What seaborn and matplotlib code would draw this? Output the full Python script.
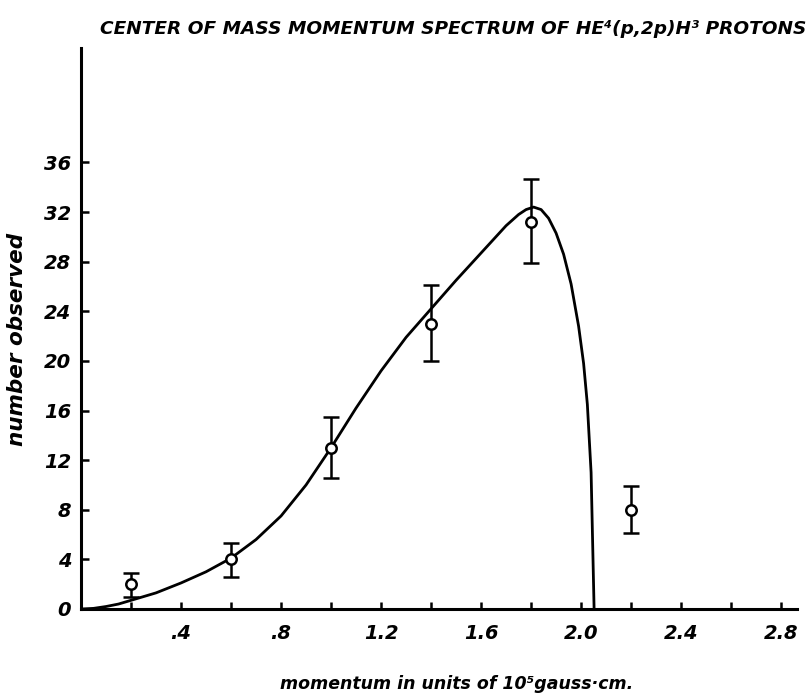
import matplotlib
matplotlib.use("Agg")
import matplotlib.pyplot as plt
import seaborn as sns
import pandas as pd

# ---- data ----
momentum = [0.2, 0.6, 1.0, 1.4, 1.8, 2.2]
observed = [2.0, 4.0, 13.0, 23.0, 31.2, 8.0]
err_lo = [1.0, 1.4, 2.4, 3.0, 3.3, 1.9]
err_hi = [0.9, 1.3, 2.5, 3.1, 3.5, 1.9]

curve_x = [0.0, 0.05, 0.1, 0.15, 0.2, 0.3, 0.4, 0.5, 0.6, 0.7, 0.8, 0.9, 1.0,
           1.1, 1.2, 1.3, 1.4, 1.5, 1.6, 1.65, 1.7, 1.75, 1.78, 1.81, 1.84,
           1.87, 1.9, 1.93, 1.96, 1.99, 2.01, 2.025, 2.04, 2.052]
curve_y = [0.0, 0.05, 0.2, 0.4, 0.7, 1.3, 2.1, 3.0, 4.1, 5.6, 7.5, 10.0, 13.0,
           16.2, 19.2, 21.9, 24.2, 26.5, 28.7, 29.8, 30.9, 31.8, 32.2, 32.4, 32.2,
           31.5, 30.3, 28.6, 26.2, 22.8, 19.8, 16.5, 11.0, 0.0]

xticks_minor = [0.2, 0.4, 0.6, 0.8, 1.0, 1.2, 1.4, 1.6, 1.8, 2.0, 2.2, 2.4, 2.6, 2.8]
xtick_pos = [0.4, 0.8, 1.2, 1.6, 2.0, 2.4, 2.8]
xtick_lab = [".4", ".8", "1.2", "1.6", "2.0", "2.4", "2.8"]
ytick_pos = [0, 4, 8, 12, 16, 20, 24, 28, 32, 36]
ytick_lab = ["0", "4", "8", "12", "16", "20", "24", "28", "32", "36"]

title = "CENTER OF MASS MOMENTUM SPECTRUM OF HE\u2074(p,2p)H\u00b3 PROTONS"
xlabel = "momentum in units of 10\u2075gauss\u00b7cm."
ylabel = "number observed"

sns.set_style("ticks")
plt.rcParams['font.family'] = ['DejaVu Sans']
plt.rcParams['font.weight'] = 'bold'
plt.rcParams['font.style'] = 'italic'
plt.rcParams['text.color'] = 'black'
plt.rcParams['axes.labelcolor'] = 'black'
plt.rcParams['xtick.color'] = 'black'
plt.rcParams['ytick.color'] = 'black'

fig = plt.figure(figsize=(8.11, 7.0), dpi=100)
ax = fig.add_axes([0.0999, 0.130, 0.883, 0.801])

curve = pd.DataFrame({"x": curve_x, "y": curve_y})
sns.lineplot(data=curve, x="x", y="y", ax=ax, color="black", linewidth=2.0,
             sort=False, estimator=None)

ax.errorbar(momentum, observed, yerr=[err_lo, err_hi], fmt="o", mfc="white",
            mec="black", ms=7.5, mew=1.8, ecolor="black", elinewidth=1.8,
            capsize=6, capthick=1.8, zorder=3)

ax.set_xlim(0, 2.864)
ax.set_ylim(0, 45.2)
for s in ["top", "right"]:
    ax.spines[s].set_visible(False)
for s in ["left", "bottom"]:
    ax.spines[s].set_linewidth(2.2)
    ax.spines[s].set_color("black")

ax.set_xticks(xticks_minor, minor=True)
ax.set_xticks(xtick_pos)
ax.set_xticklabels(xtick_lab)
ax.tick_params(axis="x", which="both", direction="in", length=5, width=1.8,
               pad=11, labelsize=14)
ax.set_yticks(ytick_pos)
ax.set_yticklabels(ytick_lab)
ax.tick_params(axis="y", direction="in", length=6, width=1.8, pad=7, labelsize=14)

ax.set_xlabel(xlabel, fontsize=12.5, style="italic", weight="bold")
ax.set_ylabel(ylabel, fontsize=15.5, style="italic", weight="bold")
ax.xaxis.set_label_coords(0.525, -0.118)
ax.yaxis.set_label_coords(-0.075, 0.48)

fig.text(0.123, 0.958, title, fontsize=13.3, style="italic", weight="bold",
         ha="left", va="center")

fig.savefig("out.png", dpi=100)
